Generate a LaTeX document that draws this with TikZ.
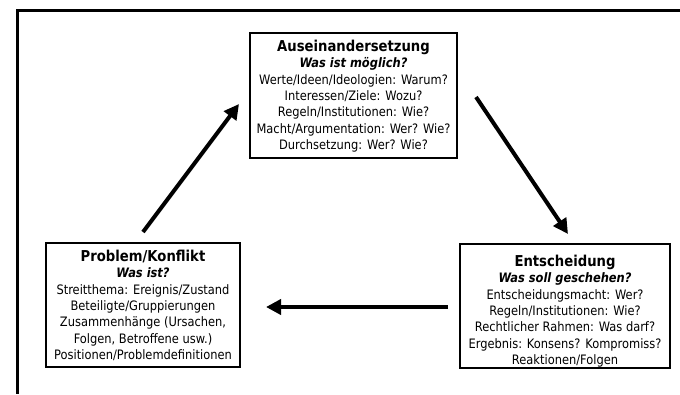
\documentclass[tikz,border=0pt]{standalone}
\usepackage{fontspec}
\setmainfont{DejaVu Sans}[FakeStretch=0.88]
\usetikzlibrary{arrows.meta}
\tikzset{
  panel/.style={draw, line width=1.6pt, fill=white, inner sep=0pt},
  body/.style={align=center, inner sep=0pt, font=\fontsize{13}{16.3}\selectfont},
  flow/.style={line width=4pt, -{Triangle[length=15pt,width=15pt]}},
}
\newcommand{\hd}[2]{{\fontsize{15}{16.3}\selectfont\bfseries #1}\\{\bfseries\itshape #2}}
\begin{document}
\begin{tikzpicture}[x=1pt,y=-1pt]
\useasboundingbox (0,0) rectangle (680,394);
% frame lines
\draw[line width=3pt] (680,10.5) -- (17.5,10.5) -- (17.5,394);

% boxes
\node[panel, minimum width=207pt, minimum height=125pt] (ausein) at (353.5,95.5) {};
\node[panel, minimum width=194pt, minimum height=124pt] (problem) at (143,305) {};
\node[panel, minimum width=210pt, minimum height=124pt] (entsch) at (565,306) {};

\node[body, anchor=north] (t1) at (353.5,40) {\hd{Auseinandersetzung}{Was ist möglich?}\\
Werte/Ideen/Ideologien: Warum?\\ Interessen/Ziele: Wozu?\\ Regeln/Institutionen: Wie?\\
Macht/Argumentation: Wer? Wie?\\ Durchsetzung: Wer? Wie?};

\node[body, anchor=north] (t2) at (143,250) {\hd{Problem/Konflikt}{Was ist?}\\
Streitthema: Ereignis/Zustand\\ Beteiligte/Gruppierungen\\ Zusammenhänge (Ursachen,\\
Folgen, Betroffene usw.)\\ Positionen/Problemdefinitionen};

\node[body, anchor=north] (t3) at (565,255) {\hd{Entscheidung}{Was soll geschehen?}\\
Entscheidungsmacht: Wer?\\ Regeln/Institutionen: Wie?\\ Rechtlicher Rahmen: Was darf?\\
Ergebnis: Konsens? Kompromiss?\\ Reaktionen/Folgen};

% arrow ends
\coordinate (a1s) at (143,232);
\coordinate (a1e) at (239,104);
\coordinate (a2s) at (476,97);
\coordinate (a2e) at (568,234);
\coordinate (a3s) at (448,307);
\coordinate (a3e) at (266,307);
\draw[flow] (a1s) -- (a1e);
\draw[flow] (a2s) -- (a2e);
\draw[flow] (a3s) -- (a3e);
\end{tikzpicture}
\end{document}
